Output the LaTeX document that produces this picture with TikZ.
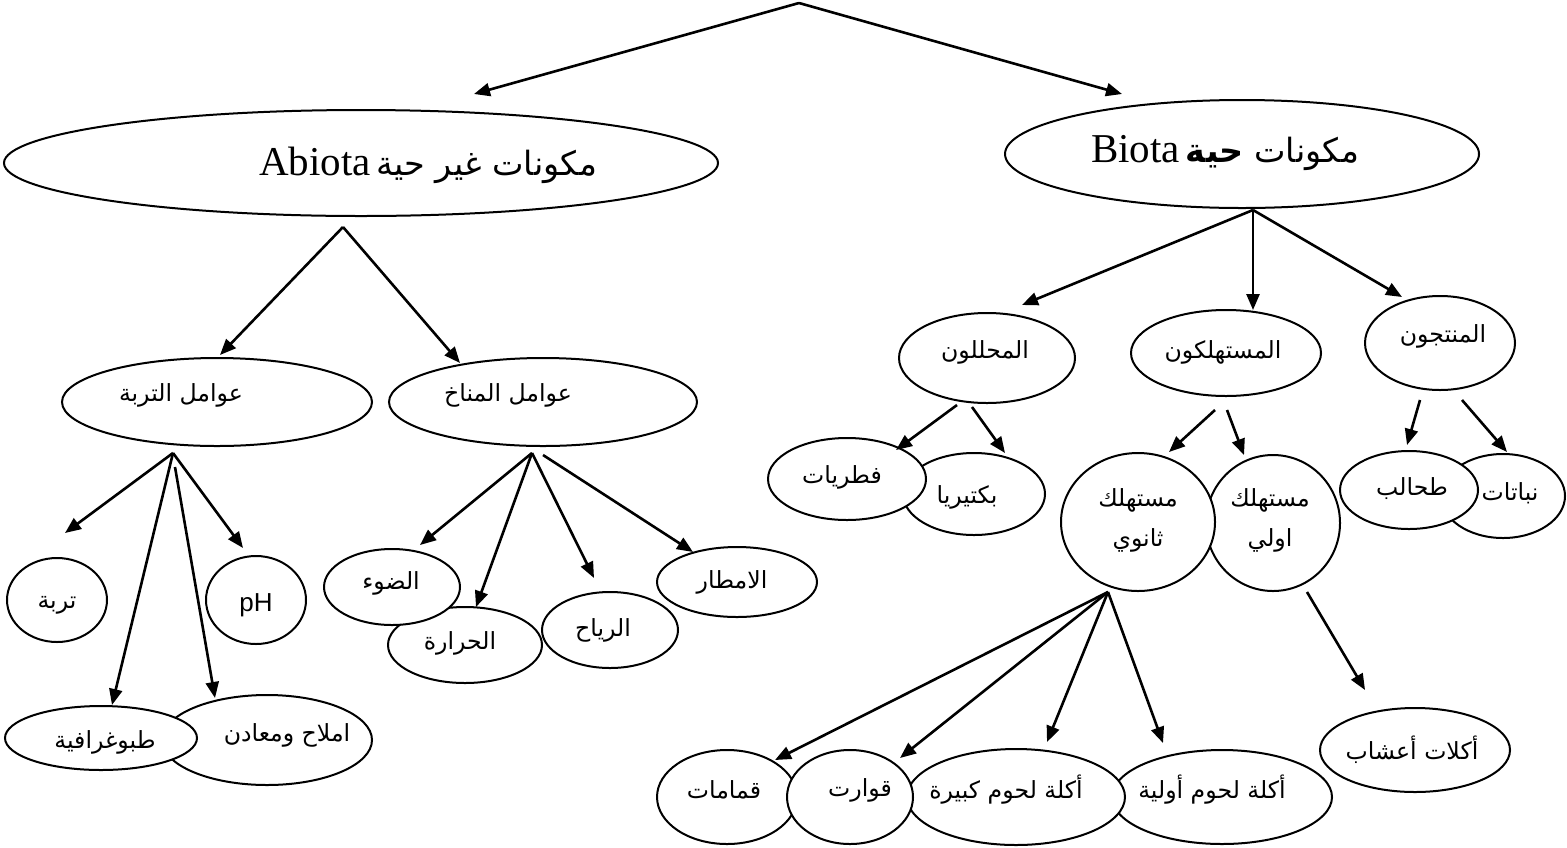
\documentclass[tikz,border=0pt]{standalone}
\usepackage{fontspec}
\setmainfont{Liberation Serif}
\newfontfamily\arabicfont[Script=Arabic]{DejaVu Sans}
\newfontfamily\arialfont{Liberation Sans}
\TeXXeTstate=1
\usetikzlibrary{shapes.geometric,arrows.meta}
\newcommand\ovn[8]{%
  \node[ov,minimum width=#4pt,minimum height=#5pt] (#1) at (#2,#3) {};
  \node[lbl] (#1t) at (#6,#7) {#8};}
\newcommand\ar[1]{{\arabicfont\beginR #1\endR}}
\begin{document}
\begin{tikzpicture}[x=0.5pt,y=-0.5pt,
  ov/.style={ellipse,draw,line width=1pt,fill=white,inner sep=0pt},
  lbl/.style={inner sep=0pt,font=\fontsize{11.8}{14}\selectfont},
  big/.style={inner sep=0pt},
  arr/.style={line width=1.3pt,-{Triangle[length=8pt,width=6.5pt]}}]
\useasboundingbox (0,0) rectangle (1567,847);
% top level
\ovn{abio}{361}{163}{357}{53}{428}{165}{{\fontsize{20.5}{24}\selectfont Abiota} {\fontsize{16.7}{20}\selectfont\ar{مكونات غير حية}}}
\ovn{bio}{1242}{154}{237}{54}{1225}{153}{{\fontsize{20.5}{24}\selectfont Biota} {\fontsize{16.7}{20}\selectfont\ar{مكونات \textbf{حية}}}}
% abiotic
\ovn{soil}{217}{402}{155}{44}{181}{395}{\ar{عوامل التربة}}
\ovn{clim}{543}{402}{154}{44}{508}{395}{\ar{عوامل المناخ}}
\ovn{turba}{57}{600}{50}{42}{57}{605}{\ar{تربة}}
\ovn{ph}{256}{600}{50}{44}{256}{605}{{\arialfont\fontsize{13}{15}\selectfont pH}}
\ovn{salts}{267}{740}{105}{45}{287}{735}{\ar{املاح ومعادن}}
\ovn{topo}{101}{738}{96}{32}{105}{742}{\ar{طبوغرافية}}
\ovn{heat}{465}{645}{77}{38}{460}{643}{\ar{الحرارة}}
\ovn{light}{392}{587}{68}{38}{391}{583}{\ar{الضوء}}
\ovn{wind}{610}{630}{68}{38}{603}{630}{\ar{الرياح}}
\ovn{rain}{737}{582}{80}{35}{732}{582}{\ar{الامطار}}
% biotic
\ovn{decomp}{987}{358}{88}{45}{985}{352}{\ar{المحللون}}
\ovn{cons}{1226}{353}{95}{43}{1223}{352}{\ar{المستهلكون}}
\ovn{prod}{1440}{343}{75}{47}{1443}{336}{\ar{المنتجون}}
\ovn{bact}{974}{494}{71}{41}{967}{497}{\ar{بكتيريا}}
\ovn{fungi}{847}{479}{79}{41}{842}{477}{\ar{فطريات}}
\ovn{prim}{1273}{523}{67}{68}{1270}{500}{\ar{مستهلك}}
\node[lbl] (prim2) at (1270,540) {\ar{اولي}};
\ovn{sec}{1138}{522}{77}{69}{1138}{500}{\ar{مستهلك}}
\node[lbl] (sec2) at (1138,540) {\ar{ثانوي}};
\ovn{plants}{1503}{496}{62}{42}{1510}{493}{\ar{نباتات}}
\ovn{algae}{1409}{490}{69}{39}{1412}{489}{\ar{طحالب}}
\ovn{herb}{1415}{750}{95}{42}{1412}{750}{\ar{أكلات أعشاب}}
\ovn{primcarn}{1222}{797}{110}{47}{1212}{790}{\ar{أكلة لحوم أولية}}
\ovn{bigcarn}{1016}{797}{109}{48}{1006}{790}{\ar{أكلة لحوم  كبيرة}}
\ovn{scav}{727}{797}{70}{47}{724}{790}{\ar{قمامات}}
\ovn{quarts}{850}{797}{63}{47}{860}{790}{\ar{قوارت}}
% connector points
\coordinate (apex) at (799,3);
\coordinate (abioE) at (474,94);
\coordinate (bioE) at (1122,94);
\coordinate (abioS) at (343,227);
\coordinate (soilE) at (220,355);
\coordinate (climE) at (460,363);
\coordinate (bioS) at (1253,210);
\coordinate (decompE) at (1022,305);
\coordinate (consE) at (1253,310);
\coordinate (prodE) at (1402,297);
\coordinate (soilS) at (173,453);
\coordinate (soilS2) at (175,467);
\coordinate (turbaE) at (65,533);
\coordinate (phE) at (243,548);
\coordinate (topoE) at (112,705);
\coordinate (saltsE) at (215,698);
\coordinate (climS) at (532,453);
\coordinate (climS2) at (543,455);
\coordinate (lightE) at (420,545);
\coordinate (heatE) at (476,607);
\coordinate (windE) at (594,578);
\coordinate (rainE) at (693,552);
\coordinate (decompS1) at (957,405);
\coordinate (decompS2) at (972,407);
\coordinate (fungiE) at (896,450);
\coordinate (bactE) at (1005,453);
\coordinate (consS1) at (1215,410);
\coordinate (consS2) at (1227,410);
\coordinate (secE) at (1169,452);
\coordinate (primE) at (1244,455);
\coordinate (prodS1) at (1420,400);
\coordinate (prodS2) at (1462,400);
\coordinate (algaeE) at (1407,445);
\coordinate (plantsE) at (1507,452);
\coordinate (secS) at (1108,592);
\coordinate (primS) at (1307,592);
\coordinate (scavE) at (775,760);
\coordinate (quartsE) at (900,758);
\coordinate (bigcarnE) at (1047,742);
\coordinate (primcarnE) at (1163,743);
\coordinate (herbE) at (1365,690);
% connectors
\draw[arr] (apex) -- (abioE);
\draw[arr] (apex) -- (bioE);
\draw[arr] (abioS) -- (soilE);
\draw[arr] (abioS) -- (climE);
\draw[arr] (bioS) -- (decompE);
\draw[arr] (bioS) -- (consE);
\draw[arr] (bioS) -- (prodE);
\draw[arr] (soilS) -- (turbaE);
\draw[arr] (soilS) -- (phE);
\draw[arr] (soilS) -- (topoE);
\draw[arr] (soilS2) -- (saltsE);
\draw[arr] (climS) -- (lightE);
\draw[arr] (climS) -- (heatE);
\draw[arr] (climS) -- (windE);
\draw[arr] (climS2) -- (rainE);
\draw[arr] (decompS1) -- (fungiE);
\draw[arr] (decompS2) -- (bactE);
\draw[arr] (consS1) -- (secE);
\draw[arr] (consS2) -- (primE);
\draw[arr] (prodS1) -- (algaeE);
\draw[arr] (prodS2) -- (plantsE);
\draw[arr] (secS) -- (scavE);
\draw[arr] (secS) -- (quartsE);
\draw[arr] (secS) -- (bigcarnE);
\draw[arr] (secS) -- (primcarnE);
\draw[arr] (primS) -- (herbE);
\end{tikzpicture}
\end{document}
